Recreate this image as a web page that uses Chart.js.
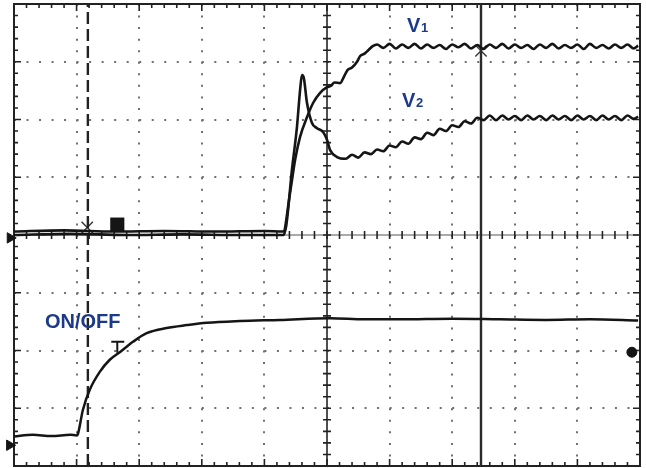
<!DOCTYPE html>
<html>
<head>
<meta charset="utf-8">
<script src="https://cdn.jsdelivr.net/npm/chart.js@4/dist/chart.umd.min.js"></script>
<style>
  html, body { margin: 0; padding: 0; background: #fff; }
  #wrap { width: 646px; height: 468px; position: relative; }
</style>
</head>
<body>
<div id="wrap"><canvas id="scope"></canvas></div>
<script>
// screen in divisions: 10 across, 8 high (centre = 0)
var xDivs = [0, 1, 2, 3, 4, 5, 6, 7, 8, 9, 10];
var yDivs = [-4, -3, -2, -1, 0, 1, 2, 3, 4];

// V1 trace (upper, settles higher)
var v1X = [0, 0.8, 1.6, 2.4, 3.2, 4.0, 4.30, 4.41, 4.49, 4.57, 4.68, 4.78, 4.89, 5.00, 5.06, 5.12, 5.21, 5.27, 5.33, 5.40, 5.48, 5.53, 5.60, 5.66, 5.73, 5.80,
  5.9, 6.0, 6.1, 6.2, 6.3, 6.4, 6.5, 6.6, 6.7, 6.8, 6.9, 7.0, 7.1, 7.2, 7.3, 7.4, 7.5, 7.6, 7.7, 7.8, 7.9, 8.0, 8.1, 8.2, 8.3, 8.4,
  8.5, 8.6, 8.7, 8.8, 8.9, 9.0, 9.1, 9.2, 9.3, 9.4, 9.5, 9.6, 9.7, 9.8, 9.9, 9.97];
var v1Y = [0.06, 0.08, 0.06, 0.07, 0.06, 0.07, 0.06, 0.73, 1.30, 1.70, 2.04, 2.29, 2.46, 2.56, 2.58, 2.64, 2.63, 2.74, 2.86, 2.90, 3.00, 3.10, 3.14, 3.20, 3.27, 3.30,
  3.24, 3.31, 3.23, 3.30, 3.24, 3.31, 3.23, 3.30, 3.24, 3.29, 3.22, 3.30, 3.25, 3.31, 3.23, 3.29, 3.22, 3.30, 3.24, 3.31, 3.23, 3.30, 3.24, 3.29, 3.22, 3.30,
  3.24, 3.31, 3.23, 3.29, 3.24, 3.30, 3.22, 3.31, 3.24, 3.29, 3.23, 3.30, 3.24, 3.30, 3.23, 3.28];

// V2 trace (overshoot then slow rise)
var v2X = [0, 0.9, 1.8, 2.7, 3.6, 4.30, 4.35, 4.44, 4.52, 4.57, 4.60, 4.63, 4.68, 4.76, 4.84, 4.94, 5.00, 5.05, 5.16, 5.3, 5.4, 5.5, 5.6, 5.7,
  5.8, 5.9, 6.0, 6.1, 6.2, 6.3, 6.4, 6.5, 6.6, 6.7, 6.8, 6.9, 7.0, 7.1, 7.2, 7.3, 7.4, 7.5, 7.6, 7.7, 7.8, 7.9, 8.0, 8.1, 8.2, 8.3,
  8.4, 8.5, 8.6, 8.7, 8.8, 8.9, 9.0, 9.1, 9.2, 9.3, 9.4, 9.5, 9.6, 9.7, 9.8, 9.9, 9.97];
var v2Y = [0.0, 0.02, 0.0, 0.01, 0.0, 0.0, 0.17, 1.13, 1.87, 2.51, 2.77, 2.72, 2.29, 1.94, 1.85, 1.78, 1.65, 1.47, 1.35, 1.32, 1.39, 1.34, 1.43, 1.40,
  1.48, 1.45, 1.55, 1.52, 1.62, 1.58, 1.69, 1.66, 1.77, 1.73, 1.84, 1.80, 1.90, 1.87, 1.97, 1.93, 2.03, 1.99, 2.07, 1.99, 2.07, 2.00, 2.06, 1.99, 2.07, 2.00,
  2.06, 1.99, 2.07, 2.00, 2.06, 1.99, 2.07, 2.00, 2.06, 1.99, 2.07, 2.00, 2.06, 1.99, 2.07, 2.01, 2.05];

// ON/OFF trace (lower channel)
var onX = [0, 0.3, 0.6, 0.9, 1.0, 1.02, 1.10, 1.21, 1.37, 1.53, 1.69, 1.90, 2.12, 2.44, 2.76, 3.08, 3.61, 4.25, 5.05, 5.6, 6.17, 7.0, 7.76, 8.5, 9.2, 9.97];
var onY = [-3.49, -3.46, -3.48, -3.46, -3.47, -3.45, -3.03, -2.68, -2.37, -2.16, -2.03, -1.85, -1.70, -1.61, -1.56, -1.52, -1.49, -1.47, -1.44, -1.46, -1.46, -1.45, -1.46, -1.47, -1.46, -1.48];

// cursors
var cursorDashX = 1.18;
var cursorSolidX = 7.46;

// markers on screen
var squareMark = [{x: 1.65, y: 0.18}];
var crossMarks = [{x: 1.17, y: 0.13}, {x: 7.46, y: 3.19}];
var dotMark = [{x: 9.87, y: -2.03}];
var groundMarks = [{x: -0.06, y: -0.05}, {x: -0.07, y: -3.64}];
var trigMark = {x: 1.65, y: -1.85};

var toPts = function(xs, ys){
  var pts = [];
  for(var i = 0; i < xs.length; i++){
    pts.push({x: xs[i], y: ys[i]});
  }
  return pts;
};

var ink = '#151515';
var blue = '#1d3a8a';

var graticule = {
  id: 'graticule',
  beforeDatasetsDraw: function(chart){
    var ctx = chart.ctx;
    var xs = chart.scales.x, ys = chart.scales.y;
    var l = xs.getPixelForValue(0), r = xs.getPixelForValue(10);
    var t = ys.getPixelForValue(4), b = ys.getPixelForValue(-4);
    var cx = xs.getPixelForValue(5), cy = ys.getPixelForValue(0);
    ctx.save();
    ctx.strokeStyle = '#222';
    // frame
    ctx.lineWidth = 2;
    ctx.strokeRect(l, t, r - l, b - t);
    // centre lines
    ctx.lineWidth = 1.6;
    ctx.beginPath();
    ctx.moveTo(cx, t); ctx.lineTo(cx, b);
    ctx.stroke();
    ctx.lineWidth = 1;
    ctx.strokeStyle = '#555';
    ctx.beginPath();
    ctx.moveTo(l, cy); ctx.lineTo(r, cy);
    ctx.stroke();
    // minor ticks
    ctx.strokeStyle = '#222';
    ctx.lineWidth = 1.6;
    ctx.beginPath();
    for(var i = 1; i < 50; i++){
      var px = xs.getPixelForValue(i / 5);
      var len = i % 5 == 0 ? 7 : 4;
      ctx.moveTo(px, t); ctx.lineTo(px, t + len);
      ctx.moveTo(px, b); ctx.lineTo(px, b - len);
      ctx.moveTo(px, cy - 4); ctx.lineTo(px, cy + 4);
    }
    for(var j = 1; j < 40; j++){
      var py = ys.getPixelForValue(-4 + j / 5);
      var len2 = j % 5 == 0 ? 7 : 4;
      ctx.moveTo(l, py); ctx.lineTo(l + len2, py);
      ctx.moveTo(r, py); ctx.lineTo(r - len2, py);
      ctx.moveTo(cx - 4, py); ctx.lineTo(cx + 4, py);
    }
    ctx.stroke();
    ctx.restore();
  },
  afterDatasetsDraw: function(chart){
    var ctx = chart.ctx;
    var xs = chart.scales.x, ys = chart.scales.y;
    ctx.save();
    // trigger level marker
    var tx = xs.getPixelForValue(trigMark.x), ty = ys.getPixelForValue(trigMark.y);
    ctx.strokeStyle = ink;
    ctx.lineWidth = 2;
    ctx.beginPath();
    ctx.moveTo(tx - 6, ty); ctx.lineTo(tx + 7, ty);
    ctx.moveTo(tx, ty); ctx.lineTo(tx, ty + 11);
    ctx.stroke();
    // labels
    ctx.fillStyle = blue;
    ctx.textBaseline = 'alphabetic';
    ctx.font = 'bold 20px "Liberation Sans", Arial, sans-serif';
    ctx.fillText('V', 407, 32);
    ctx.fillText('V', 402, 107);
    ctx.fillText('ON/OFF', 45, 328);
    ctx.font = 'bold 13px "Liberation Sans", Arial, sans-serif';
    ctx.fillText('1', 421, 32);
    ctx.fillText('2', 416, 107);
    ctx.restore();
  }
};

var lineSet = function(pts, w, smooth){
  var ds = {
    data: pts,
    showLine: true,
    borderColor: ink,
    borderWidth: w,
    pointRadius: 0,
    tension: 0,
    fill: false
  };
  if(smooth){
    ds.cubicInterpolationMode = 'monotone';
  }
  return ds;
};

var dashSet = lineSet([{x: cursorDashX, y: -4}, {x: cursorDashX, y: 4}], 2.4);
dashSet.borderDash = [12, 5];
dashSet.borderColor = '#222';
var solidSet = lineSet([{x: cursorSolidX, y: -4}, {x: cursorSolidX, y: 4}], 2.4);
solidSet.borderColor = '#2a2a2a';

var ctx = document.getElementById('scope').getContext('2d');
var chart = new Chart(ctx, {
  type: 'scatter',
  data: {
    datasets: [
      lineSet(toPts(v2X, v2Y), 2.6, true),
      lineSet(toPts(v1X, v1Y), 2.6, true),
      lineSet(toPts(onX, onY), 2.5, true),
      dashSet,
      solidSet,
      {data: squareMark, pointStyle: 'rect', pointRadius: 10, backgroundColor: ink, borderColor: ink, borderWidth: 0},
      {data: crossMarks, pointStyle: 'crossRot', pointRadius: 8, borderColor: '#333', borderWidth: 1.4},
      {data: dotMark, pointStyle: 'circle', pointRadius: 5, backgroundColor: ink, borderColor: ink},
      {data: groundMarks, pointStyle: 'triangle', rotation: 90, pointRadius: 6, backgroundColor: ink, borderColor: ink, clip: false}
    ]
  },
  options: {
    responsive: true,
    maintainAspectRatio: false,
    animation: false,
    events: [],
    layout: {autoPadding: false, padding: {left: 14, top: 4, right: 6, bottom: 2}},
    plugins: {legend: {display: false}, tooltip: {enabled: false}},
    scales: {
      x: {
        type: 'linear', min: 0, max: 10,
        afterBuildTicks: function(s){ s.ticks = xDivs.map(function(v){ return {value: v}; }); },
        ticks: {display: false},
        border: {display: false, dash: [2, 9.55]},
        grid: {
          drawTicks: false,
          lineWidth: 2,
          color: function(c){ var v = c.tick ? c.tick.value : 0; return (v == 0 || v == 5 || v == 10) ? 'rgba(0,0,0,0)' : '#707070'; }
        }
      },
      y: {
        type: 'linear', min: -4, max: 4,
        afterBuildTicks: function(s){ s.ticks = yDivs.map(function(v){ return {value: v}; }); },
        ticks: {display: false},
        border: {display: false, dash: [2, 10.52]},
        grid: {
          drawTicks: false,
          lineWidth: 2,
          color: function(c){ var v = c.tick ? c.tick.value : 0; return (v == 0 || v == 4 || v == -4) ? 'rgba(0,0,0,0)' : '#707070'; }
        }
      }
    }
  },
  plugins: [graticule]
});
</script>
</body>
</html>
